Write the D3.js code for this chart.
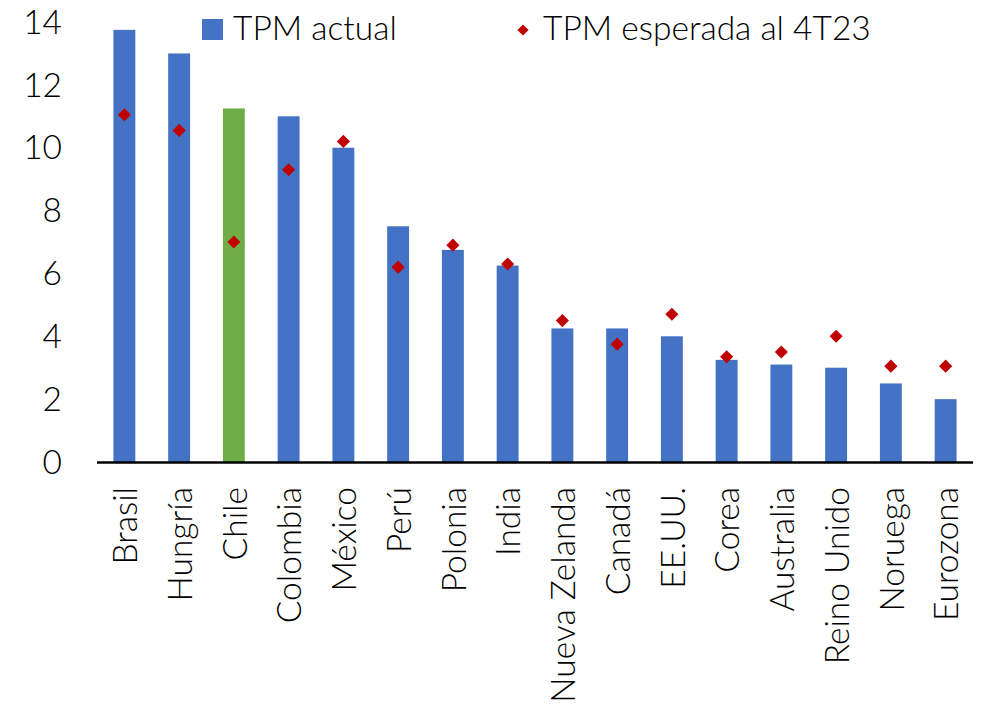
<!DOCTYPE html>
<html>
<head>
<meta charset="utf-8">
<script src="https://cdn.jsdelivr.net/npm/d3@7"></script>
<style>
  body { margin: 0; background: #fff; }
  text { font-family: Lato, "Open Sans", sans-serif; font-weight: 300; fill: #000; }
</style>
</head>
<body>
<div id="chart"></div>
<script>
const countries = ["Brasil", "Hungría", "Chile", "Colombia", "México", "Perú", "Polonia", "India",
    "Nueva Zelanda", "Canadá", "EE.UU.", "Corea", "Australia", "Reino Unido", "Noruega", "Eurozona"];
const tpmActual = [13.75, 13.0, 11.25, 11.0, 10.0, 7.5, 6.75, 6.25, 4.25, 4.25, 4.0, 3.25, 3.1, 3.0, 2.5, 2.0];
const tpmEsperada = [11.05, 10.55, 7.0, 9.3, 10.2, 6.2, 6.9, 6.3, 4.5, 3.75, 4.7, 3.35, 3.5, 4.0, 3.05, 3.05];
const yTicks = [0, 2, 4, 6, 8, 10, 12, 14];
const seriesNames = ["TPM actual", "TPM esperada al 4T23"];

const width = 982, height = 708;
const fontSize = 33.5;

const svg = d3.select("#chart")
    .append("svg")
    .attr("width", width)
    .attr("height", height);

const x = d3.scaleBand()
    .domain(countries)
    .range([97, 973])
    .paddingInner(0.6)
    .paddingOuter(0.3);

const y = d3.scaleLinear()
    .domain([0, 14])
    .range([462, 22]);

// y tick labels (no axis line)
svg.append("g")
    .selectAll("text")
    .data(yTicks)
    .enter().append("text")
    .attr("x", 62)
    .attr("y", function(d) { return y(d); })
    .attr("dy", "0.35em")
    .attr("text-anchor", "end")
    .attr("font-size", fontSize)
    .text(function(d) { return d; });

// bars
svg.append("g")
    .selectAll("rect")
    .data(countries)
    .enter().append("rect")
    .attr("x", function(d) { return x(d); })
    .attr("width", x.bandwidth())
    .attr("y", function(d, i) { return y(tpmActual[i]); })
    .attr("height", function(d, i) { return y(0) - y(tpmActual[i]); })
    .attr("fill", function(d) { return d === "Chile" ? "#70AD47" : "#4472C4"; });

// x axis line
svg.append("line")
    .attr("x1", 97)
    .attr("x2", 973)
    .attr("y1", y(0) + 0.5)
    .attr("y2", y(0) + 0.5)
    .attr("stroke", "#000")
    .attr("stroke-width", 2.5);

// diamonds
const diamond = d3.symbol().type(d3.symbolDiamond2).size(110);
svg.append("g")
    .selectAll("path")
    .data(countries)
    .enter().append("path")
    .attr("d", diamond)
    .attr("transform", function(d, i) {
        return "translate(" + (x(d) + x.bandwidth() / 2) + "," + y(tpmEsperada[i]) + ")";
    })
    .attr("fill", "#C00000");

// category labels
svg.append("g")
    .selectAll("text")
    .data(countries)
    .enter().append("text")
    .attr("transform", function(d) {
        return "translate(" + (x(d) + x.bandwidth() / 2 + 1) + ",487)rotate(-90)";
    })
    .attr("dy", "0.35em")
    .attr("text-anchor", "end")
    .attr("font-size", fontSize)
    .text(function(d) { return d; });

// legend
const legend = svg.append("g");
legend.append("rect")
    .attr("x", 202).attr("y", 19)
    .attr("width", 21).attr("height", 21)
    .attr("fill", "#4472C4");
legend.append("text")
    .attr("x", 233).attr("y", 40)
    .attr("font-size", fontSize)
    .text(seriesNames[0]);
legend.append("path")
    .attr("d", d3.symbol().type(d3.symbolDiamond2).size(80))
    .attr("transform", "translate(523,30)")
    .attr("fill", "#C00000");
legend.append("text")
    .attr("x", 543).attr("y", 40)
    .attr("font-size", fontSize)
    .text(seriesNames[1]);
</script>
</body>
</html>
